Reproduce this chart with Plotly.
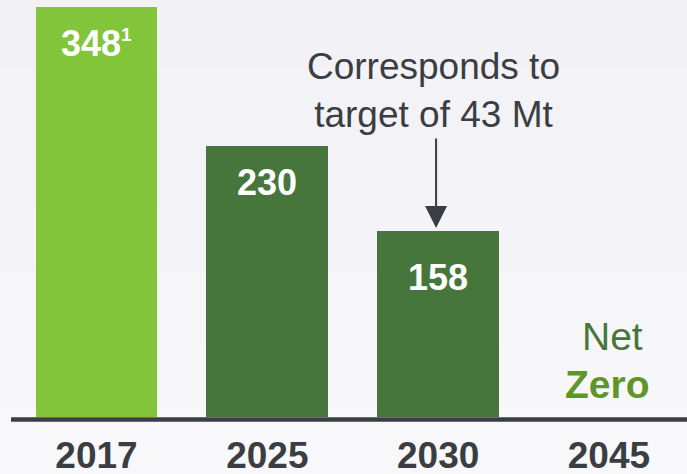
import plotly.graph_objects as go

# Data
years = ["2017", "2025", "2030", "2045"]
values = [348, 230, 158, 0]
bar_labels = ["348<sup><span style='font-size:19px'>1</span></sup>", "230", "158", ""]
bar_colors = ["#82c43a", "#47763c", "#47763c", "#47763c"]
annotation_text = "Corresponds to<br>target of 43 Mt"
net_zero = ["Net", "Zero"]

W, H = 687, 474
xpos = list(range(len(years)))

fig = go.Figure()
fig.add_trace(go.Bar(
    x=xpos, y=values, marker=dict(color=bar_colors, line=dict(width=0)),
    width=0.714, hoverinfo="skip",
))

# background gradient bands
bands = ["#f1f1f6", "#f2f2f7", "#f3f3f7", "#f4f4f8", "#f6f6f9", "#f7f7fa", "#f8f8fa"]
n = len(bands)
for i, c in enumerate(bands):
    fig.add_shape(type="rect", xref="paper", yref="paper",
                  x0=-0.01, x1=1.01, y0=(1 - (i + 1) / n) * 1.14 - 0.14 if i < n - 1 else -0.2,
                  y1=(1 - i / n) * 1.14 - 0.14 if i > 0 else 1.05,
                  fillcolor=c, line=dict(width=0), layer="below")

# baseline
fig.add_shape(type="line", xref="paper", yref="paper", x0=11 / W, x1=1.0,
              y0=-2.5 / 417, y1=-2.5 / 417,
              line=dict(color="#3a3e42", width=4.5))

# bar value labels
label_offsets = [-37, -37, -47]
for i, (v, t) in enumerate(zip(values, bar_labels)):
    if t:
        fig.add_annotation(x=xpos[i], y=v, text=f"<b>{t}</b>", showarrow=False,
                           yshift=label_offsets[i], yanchor="middle",
                           font=dict(family="Liberation Sans", size=36, color="white"))

# callout text
fig.add_annotation(x=1.97, y=277, text=annotation_text, showarrow=False,
                   yanchor="middle", align="center",
                   font=dict(family="Liberation Sans", size=37, color="#3a3e42"))
# arrow
fig.add_annotation(x=1.988, y=values[2] + 2.5, text="", showarrow=True,
                   ax=0, ay=-91, axref="pixel", ayref="pixel",
                   arrowhead=2, arrowsize=2.2, arrowwidth=2, arrowcolor="#3a3e42")

# Net Zero
fig.add_annotation(x=3.02, y=68, text=net_zero[0], showarrow=False, yanchor="middle",
                   font=dict(family="Liberation Sans", size=39, color="#47763c"))
fig.add_annotation(x=2.99, y=28, text=f"<b>{net_zero[1]}</b>", showarrow=False, yanchor="middle",
                   font=dict(family="Liberation Sans", size=39, color="#5e9629"))

fig.update_layout(
    width=W, height=H,
    margin=dict(l=0, r=0, t=0, b=57, autoexpand=False),
    paper_bgcolor="#f4f4f8", plot_bgcolor="rgba(0,0,0,0)",
    showlegend=False, bargap=0,
    xaxis=dict(range=[-0.565, 3.457], tickvals=xpos, ticktext=[f"<b>{y}</b>" for y in years],
               tickfont=dict(family="Liberation Sans", size=37, color="#3a3e42"),
               showgrid=False, zeroline=False, showline=False, ticks="", ticklabelstandoff=13,
               automargin=False),
    yaxis=dict(range=[0, 353.9], visible=False, showgrid=False, zeroline=False, automargin=False),
)

fig.write_html("out.html", config={"displayModeBar": False},
               post_script="document.body.style.margin='0';document.body.style.overflow='hidden';")
